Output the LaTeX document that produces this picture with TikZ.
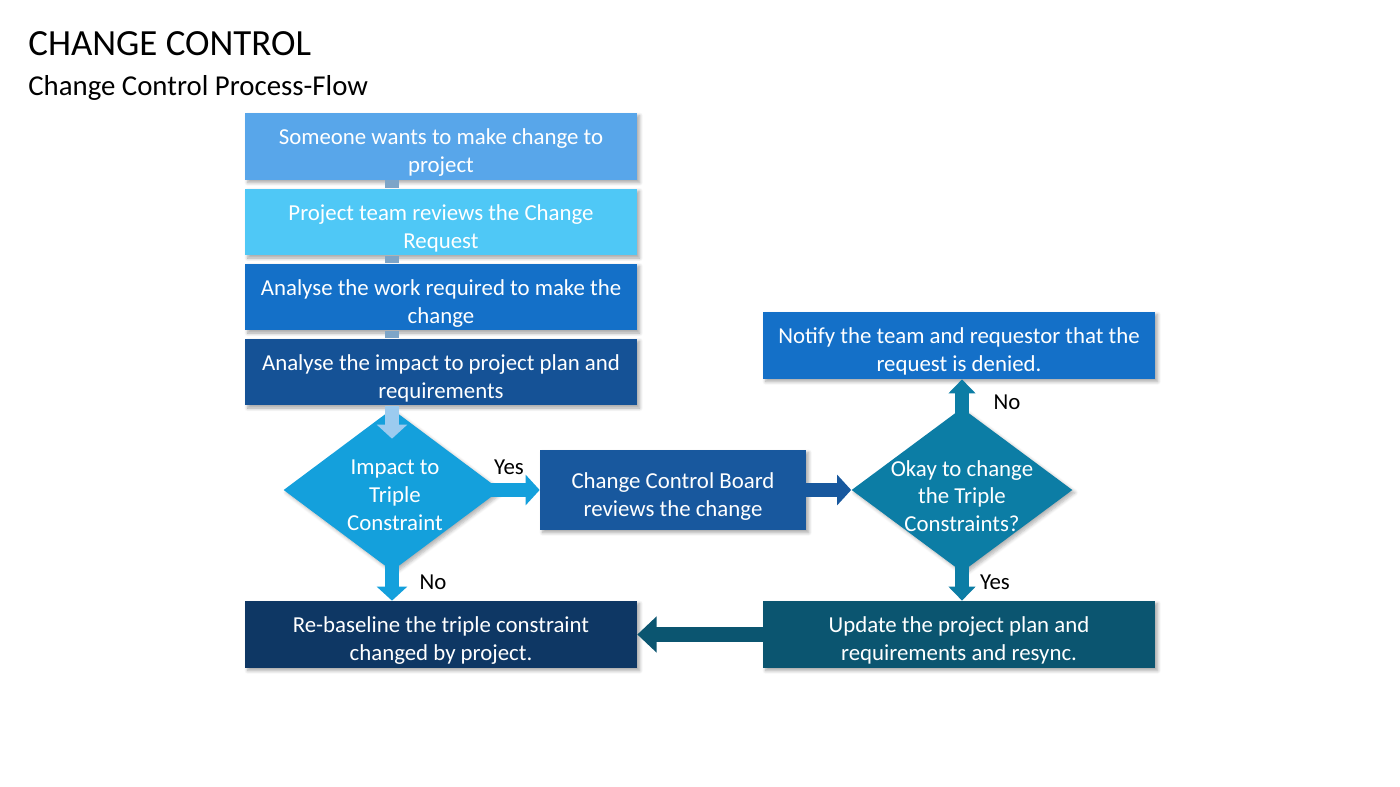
\documentclass[tikz,border=0pt]{standalone}
\usepackage{fontspec}
\setmainfont{Carlito}
\usetikzlibrary{shapes.geometric,arrows.meta,shadows.blur}

\definecolor{wantblue}{HTML}{58A6EA}
\definecolor{teamblue}{HTML}{4FC8F6}
\definecolor{workblue}{HTML}{1470C8}
\definecolor{impactblue}{HTML}{155296}
\definecolor{triblue}{HTML}{14A0DC}
\definecolor{boardblue}{HTML}{18589E}
\definecolor{okayteal}{HTML}{0C7DA5}
\definecolor{notifyblue}{HTML}{1470C8}
\definecolor{updateteal}{HTML}{0B5570}
\definecolor{rebasenavy}{HTML}{0E3764}
\definecolor{linkgray}{HTML}{7DA5C8}
\definecolor{inlight}{HTML}{9CCBEF}

\begin{document}
\begin{tikzpicture}[x=0.02cm, y=-0.02cm,
    box/.style={rectangle, minimum width=7.84cm, minimum height=1.34cm, inner sep=0pt,
      align=center, text=white, font=\fontsize{13}{15.8}\selectfont, text height=31.9pt,
      blur shadow={shadow blur steps=6, shadow xshift=1.5pt, shadow yshift=-1.5pt, shadow opacity=35}},
    decision/.style={diamond, minimum width=4.34cm, minimum height=3.24cm, inner sep=0pt,
      blur shadow={shadow blur steps=6, shadow xshift=1.5pt, shadow yshift=-1.5pt, shadow opacity=30}},
    dtext/.style={align=center, text=white, font=\fontsize{13}{15.8}\selectfont},
    answer/.style={font=\fontsize{13}{15.8}\selectfont},
    flow/.style={line width=8.5pt, -{Triangle[length=8pt,width=17pt]}},
    link/.style={line width=8pt, linkgray}]
  \useasboundingbox (0,0) rectangle (1400,787);

  % titles
  \node[anchor=base west, inner sep=0pt, font=\fontsize{21}{25}\selectfont] (title) at (28,56) {CHANGE CONTROL};
  \node[anchor=base west, inner sep=0pt, font=\fontsize{16.4}{20}\selectfont] (subtitle) at (28,96) {Change Control Process-Flow};

  % left column
  \node[box, fill=wantblue] (want) at (441,146.5) {Someone wants to make change to\\project};
  \node[box, fill=teamblue] (team) at (441,222) {Project team reviews the Change\\Request};
  \node[box, fill=workblue] (work) at (441,297) {Analyse the work required to make the\\change};
  \node[box, fill=impactblue] (impact) at (441,372) {Analyse the impact to project plan and\\requirements};

  \node[decision, fill=triblue] (tri) at (392,490) {};
  \node[dtext] (tritext) at (395,495) {Impact to\\Triple\\Constraint};

  \node[box, fill=rebasenavy] (rebase) at (441,634.5) {Re-baseline the triple constraint\\changed by project.};

  % middle and right
  \node[box, fill=boardblue, minimum width=5.32cm, minimum height=1.6cm] (board) at (673,490) {Change Control Board\\reviews the change};

  \node[decision, fill=okayteal, minimum width=4.42cm, minimum height=3.28cm] (okay) at (962,490) {};
  \node[dtext] (okaytext) at (962,496) {Okay to change\\the Triple\\Constraints?};

  \node[box, fill=notifyblue] (notify) at (959,345.5) {Notify the team and requestor that the\\request is denied.};
  \node[box, fill=updateteal] (update) at (959,634.5) {Update the project plan and\\requirements and resync.};

  % connectors
  \draw[link] (want.south -| tri) -- (team.north -| tri);
  \draw[link] (team.south -| tri) -- (work.north -| tri);
  \draw[link] (work.south -| tri) -- (impact.north -| tri);
  \draw[flow, inlight] (impact.south -| tri) -- ([yshift=-0.6cm]tri.north);

  \draw[flow, triblue, shorten <=-0.25cm] (tri.east) -- (board.west);
  \draw[flow, triblue, shorten <=-0.3cm] (tri.south) -- (rebase.north -| tri);
  \draw[flow, boardblue] (board.east) -- (okay.west);
  \draw[flow, okayteal, -{Triangle[length=8pt,width=15pt]}, shorten <=-0.2cm] (okay.north) -- (notify.south -| okay);
  \draw[flow, okayteal, -{Triangle[length=8pt,width=15pt]}, shorten <=-0.2cm] (okay.south) -- (update.north -| okay);
  \draw[flow, updateteal, -{Triangle[length=11pt,width=20pt]}] (update.west) -- (rebase.east);

  % answers
  \node[answer] (yesA) at (509,467) {Yes};
  \node[answer] (noA) at (433,582) {No};
  \node[answer] (noB) at (1007,402) {No};
  \node[answer] (yesB) at (995,582) {Yes};
\end{tikzpicture}
\end{document}
